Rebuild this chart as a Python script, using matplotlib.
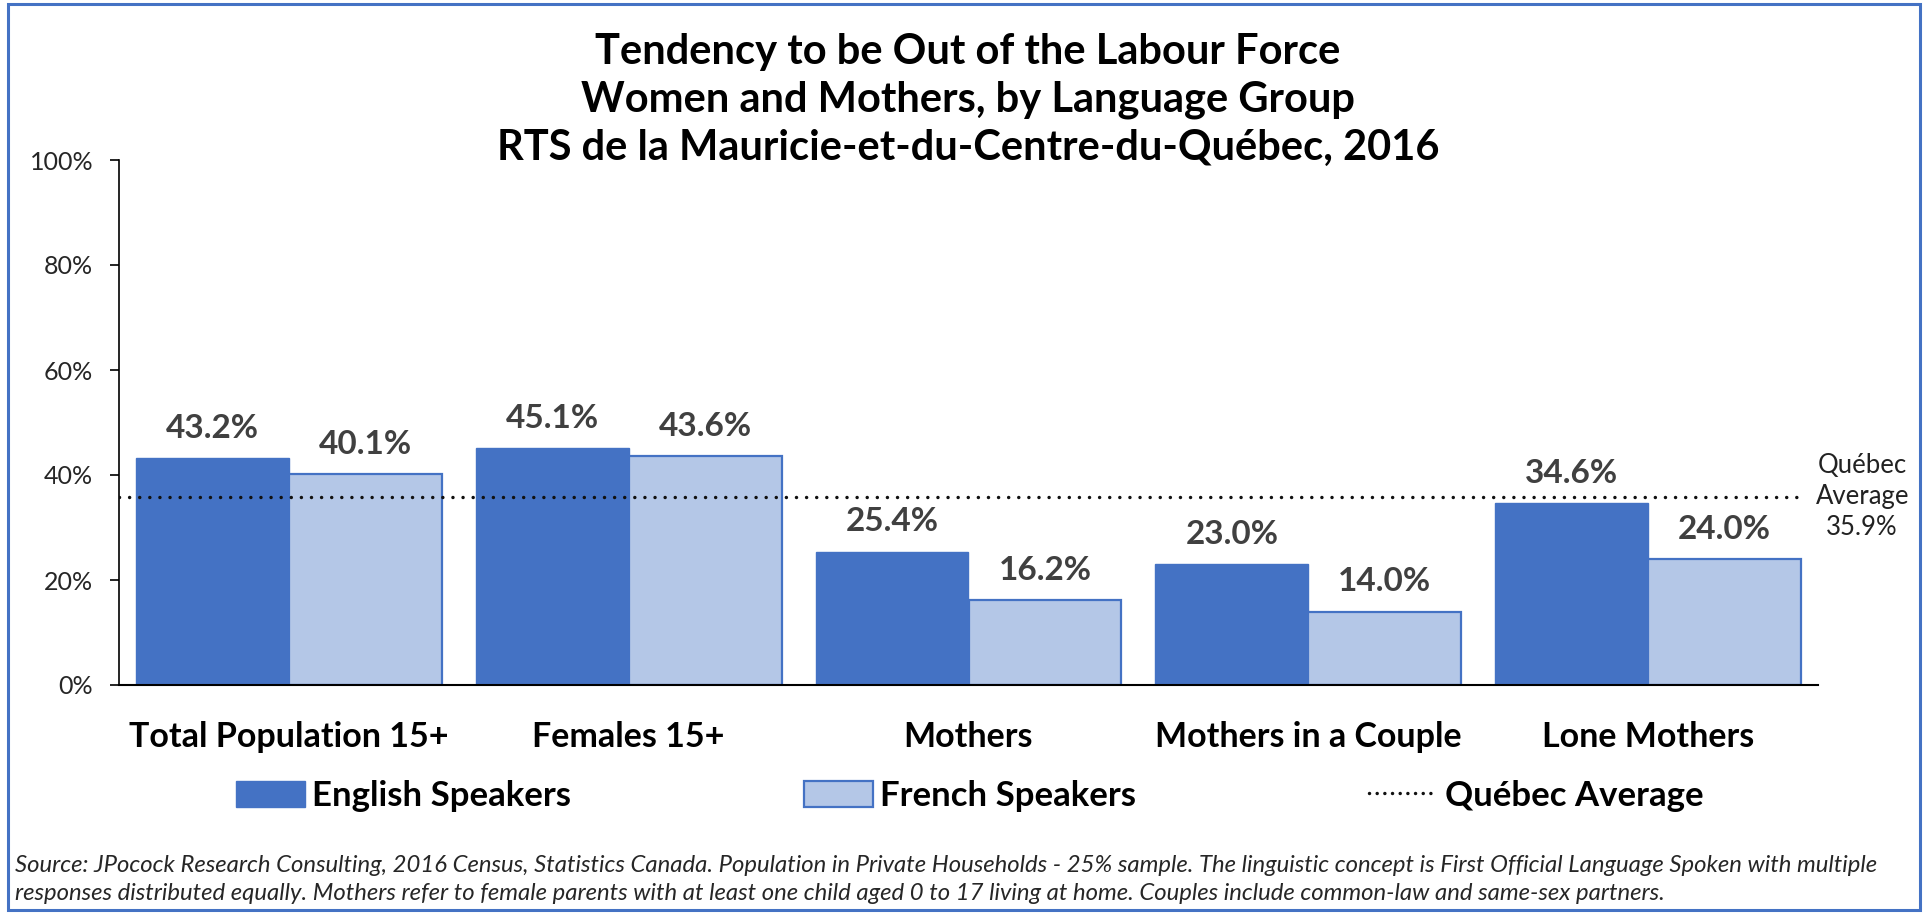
import matplotlib
matplotlib.use("Agg")
import matplotlib.pyplot as plt
from matplotlib.patches import Patch, Rectangle
from matplotlib.lines import Line2D
import numpy as np

# chart data
categories = ["Total Population 15+", "Females 15+", "Mothers", "Mothers in a Couple", "Lone Mothers"]
english = [43.2, 45.1, 25.4, 23.0, 34.6]
french = [40.1, 43.6, 16.2, 14.0, 24.0]
quebec_avg = 35.9
yticks = [0, 20, 40, 60, 80, 100]

title_lines = ["Tendency to be Out of the Labour Force",
               "Women and Mothers, by Language Group",
               "RTS de la Mauricie-et-du-Centre-du-Québec, 2016"]
source_lines = [
    "Source: JPocock Research Consulting, 2016 Census, Statistics Canada. Population in Private Households - 25% sample. "
    "The linguistic concept is First Official Language Spoken with multiple",
    "responses distributed equally. Mothers refer to female parents with at least one child aged 0 to 17 living at home. "
    "Couples include common-law and same-sex partners.",
]

BLUE = "#4472C4"
LIGHT = "#B4C7E7"
LABEL = "#404040"

plt.rcParams['font.family'] = ['Lato', 'DejaVu Sans']

fig = plt.figure(figsize=(19.29, 9.14), dpi=100)
W, H = 1929, 914
ax = fig.add_axes([119 / W, 1 - 685 / H, (1818 - 119) / W, (685 - 160) / H])

x = np.arange(len(categories))
w = 0.45
b1 = ax.bar(x - w / 2, english, w, color=BLUE, edgecolor=BLUE, linewidth=1.0, zorder=2)
b2 = ax.bar(x + w / 2, french, w, color=LIGHT, edgecolor=BLUE, linewidth=1.6, zorder=2)

# value labels above bars
for bars, vals in [(b1, english), (b2, french)]:
    for r, v in zip(bars, vals):
        ax.annotate(f"{v:.1f}%", (r.get_x() + r.get_width() / 2, v),
                    xytext=(0, 21.5), textcoords="offset points",
                    ha="center", va="center", fontsize=24, fontweight="bold", color=LABEL)

# Québec average dotted line
ax.axhline(quebec_avg, xmin=0, xmax=0.9906, color="#111111", linewidth=2.5,
           linestyle=(0, (0.01, 2.9)), dash_capstyle="round", zorder=3)
ax.text(1.026, quebec_avg, "Québec\nAverage\n" + f"{quebec_avg}%", transform=ax.get_yaxis_transform(),
        ha="center", va="center", fontsize=18.5, color="#222222", linespacing=1.3, clip_on=False)

ax.set_xlim(-0.5, len(categories) - 0.5)
ax.set_ylim(0, 100)
ax.set_yticks(yticks)
ax.set_yticklabels([f"{t}%" for t in yticks], fontsize=18, color="#262626")
ax.set_xticks(x)
ax.set_xticklabels(categories, fontsize=24.5, fontweight="bold", color="black")
ax.tick_params(axis="x", length=0, pad=26)
ax.tick_params(axis="y", length=6.5, width=1.2, direction="out", pad=12)
for s in ["top", "right"]:
    ax.spines[s].set_visible(False)
ax.spines["left"].set_linewidth(1.2)
ax.spines["bottom"].set_linewidth(1.5)

# title
for i, line in enumerate(title_lines):
    fig.text(968 / W, 1 - (52 + 48 * i) / H, line, ha="center", va="center",
             fontsize=30, fontweight="bold", color="black")

# legend
handles = [Patch(facecolor=BLUE, edgecolor=BLUE, label="English Speakers"),
           Patch(facecolor=LIGHT, edgecolor=BLUE, linewidth=1.6, label="French Speakers"),
           Line2D([], [], color="#111111", linewidth=2.5, linestyle=(0, (0.01, 2.2)),
                  dash_capstyle="round", label="Québec Average")]
leg = fig.legend(handles=handles, loc="center", bbox_to_anchor=(970 / W, 1 - 796 / H), ncol=3,
                 frameon=False, fontsize=25, handlelength=2.0, handleheight=0.8,
                 handletextpad=0.2, columnspacing=6.7)
for t in leg.get_texts():
    t.set_fontweight("bold")

# source
for i, line in enumerate(source_lines):
    fig.text(15 / W, 1 - (865 + 29 * i) / H, line, ha="left", va="center",
             fontsize=17.2, style="italic", color="#262626")

# outer border
fig.patches.append(Rectangle((8 / W, 4 / H), (1920 - 8) / W, (910 - 4) / H, transform=fig.transFigure,
                             fill=False, edgecolor=BLUE, linewidth=2.2))

fig.savefig("out.png", dpi=100)
